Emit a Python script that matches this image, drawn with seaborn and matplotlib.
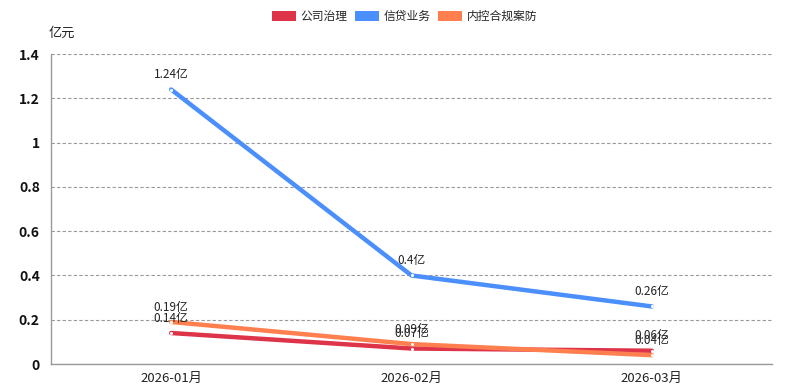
import matplotlib
matplotlib.use("Agg")
import matplotlib.pyplot as plt
import seaborn as sns
import pandas as pd
from matplotlib.patches import Patch

months = ["2026-01月", "2026-02月", "2026-03月"]
series_names = ["公司治理", "信贷业务", "内控合规案防"]
gov_vals = [0.14, 0.07, 0.06]
credit_vals = [1.24, 0.40, 0.26]
ctrl_vals = [0.19, 0.09, 0.04]
colors = ["#dd3449", "#4a8ffb", "#ff7f4f"]
yticks = [0, 0.2, 0.4, 0.6, 0.8, 1, 1.2, 1.4]
ytick_labels = ["0", "0.2", "0.4", "0.6", "0.8", "1", "1.2", "1.4"]

sns.set_style("white")
plt.rcParams['font.family'] = ['Noto Sans CJK SC', 'DejaVu Sans']

rows = []
for name, vals in zip(series_names, [gov_vals, credit_vals, ctrl_vals]):
    for i, (m, v) in enumerate(zip(months, vals)):
        rows.append({"month": m, "idx": i, "series": name, "value": v})
df = pd.DataFrame(rows)

fig = plt.figure(figsize=(7.99, 3.92), dpi=100)
ax = fig.add_axes([0.0638, 0.0714, 0.9025, 0.7906])

sns.lineplot(data=df, x="idx", y="value", hue="series", hue_order=series_names,
             palette=colors, linewidth=3.2, marker="o", markersize=2.2,
             markerfacecolor="white", markeredgecolor="white", markeredgewidth=0,
             legend=False, ax=ax, solid_capstyle="round")

for name, vals in zip(series_names, [gov_vals, credit_vals, ctrl_vals]):
    for i, v in enumerate(vals):
        ax.annotate(f"{v:g}亿", (i, v), xytext=(0, 6), textcoords="offset points",
                    ha="center", va="bottom", fontsize=8.5, color="#222222")

ax.set_xlim(-0.5, 2.5)
ax.set_ylim(0, 1.4)
ax.set_xticks([0, 1, 2])
ax.set_xticklabels(months, fontsize=9.5, color="#222222")
ax.set_xticks([-0.5, 0.5, 1.5, 2.5], minor=True)
ax.tick_params(axis="x", which="major", length=0, pad=6)
ax.tick_params(axis="x", which="minor", length=4, color="#999999", width=1)
ax.set_yticks(yticks)
ax.set_yticklabels(ytick_labels, fontsize=10, fontweight="bold", color="#111111")
ax.tick_params(axis="y", length=0, pad=8)
ax.yaxis.grid(True, linestyle=(0, (3, 2)), color="#999999", linewidth=0.8)
ax.set_axisbelow(True)
for s in ["top", "right"]:
    ax.spines[s].set_visible(False)
for s in ["left", "bottom"]:
    ax.spines[s].set_color("#999999")
    ax.spines[s].set_linewidth(1)
ax.set_xlabel("")
ax.set_ylabel("")

fig.text(0.078, 0.915, "亿元", fontsize=9.5, ha="center", va="center", color="#222222")

handles = [Patch(facecolor=c, edgecolor="none") for c in colors]
fig.legend(handles, series_names, loc="center", bbox_to_anchor=(0.506, 0.958), ncol=3,
           frameon=False, fontsize=8.5, handlelength=2.1, handleheight=0.9,
           columnspacing=0.6, handletextpad=0.35)

fig.savefig("out.png", dpi=100)
